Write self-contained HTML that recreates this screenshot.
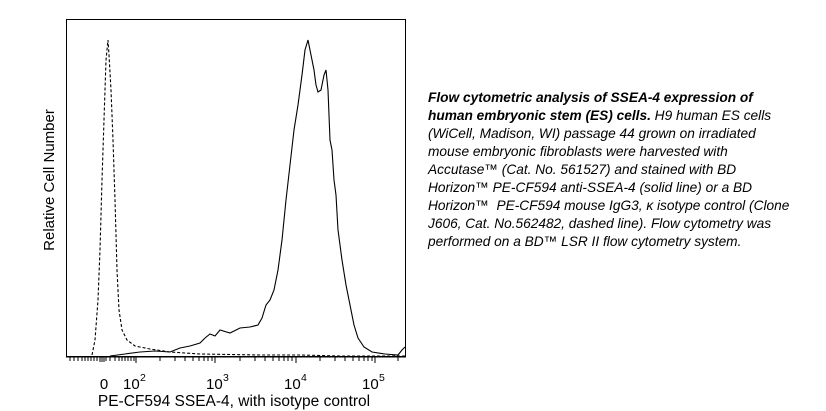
<!DOCTYPE html><html><head><style>
body{margin:0;width:826px;height:411px;background:#fff;position:relative;overflow:hidden;font-family:"Liberation Sans",Arial,sans-serif}
.t{position:absolute;left:428px;font-size:13.7px;font-style:italic;white-space:nowrap;line-height:18px}
</style></head><body>
<svg width="826" height="411" style="position:absolute;left:0;top:0" font-family="Liberation Sans, Arial, sans-serif">
<rect x="66.5" y="19.5" width="339" height="337" fill="none" stroke="#000" stroke-width="1"/>
<g stroke="#000" stroke-width="1">
<line x1="66" y1="357" x2="406" y2="357"/>
<path d="M70 357v4M74 357v4M78 357v4M82 357v4M85 357v4M88 357v4M91 357v4M94 357v4M97 357v4M100 357v5M102 357v5M104 357v5M106 357v4M110 357v4M115 357v4M119 357v4M122 357v4M125 357v4M128 357v4M131 357v4M134 357v4M136 357v6
M160 357v4M175 357v4M185 357v4M193 357v4M199 357v4M204 357v4M208 357v4M212 357v4M215 357v6
M240 357v4M255 357v4M265 357v4M273 357v4M279 357v4M284 357v4M288 357v4M292 357v4M296 357v6
M320 357v4M335 357v4M345 357v4M353 357v4M359 357v4M364 357v4M368 357v4M372 357v4M375 357v6M398 357v4"/>
</g>
<polyline fill="none" stroke="#000" stroke-width="1.1" points="110,356 125,354 140,352 155,351 170,352 180,348 190,346 200,343 205,338 210,334 215,336 220,330 230,333 240,328 250,327 258,325 262,318 266,305 270,300 274,290 278,270 282,240 286,200 290,165 294,130 298,105 302,75 305,50 308,40 311,55 314,70 316,85 318,92 321,90 324,75 326,70 328,90 330,140 332,150 334,180 336,195 338,230 342,260 346,285 350,305 354,325 358,338 364,347 372,352 385,354 398,355 402,350 405,347"/>
<polyline fill="none" stroke="#000" stroke-width="1.1" stroke-dasharray="3,2" points="92,355 95,340 98,300 100,250 102,180 104,120 106,60 108,40 109,55 111,90 113,140 115,200 117,270 119,310 122,330 127,340 135,346 150,349 170,352 200,354 260,355 300,355 340,356 405,356"/>
<text x="104" y="389" font-size="15" text-anchor="middle">0</text>
<text x="123" y="389" font-size="15">10</text><text x="140" y="381" font-size="10.5">2</text>
<text x="206" y="389" font-size="15">10</text><text x="223" y="381" font-size="10.5">3</text>
<text x="284" y="389" font-size="15">10</text><text x="301" y="381" font-size="10.5">4</text>
<text x="362" y="389" font-size="15">10</text><text x="379" y="381" font-size="10.5">5</text>
<text x="234" y="406" font-size="15.5" text-anchor="middle">PE-CF594 SSEA-4, with isotype control</text>
<text transform="translate(54,180) rotate(-90)" font-size="15" text-anchor="middle">Relative Cell Number</text>
</svg>
<div class="t" style="top:89px"><b>Flow cytometric analysis of SSEA-4 expression of</b></div>
<div class="t" style="top:107px"><b>human embryonic stem (ES) cells.</b> H9 human ES cells</div>
<div class="t" style="top:125px">(WiCell, Madison, WI) passage 44 grown on irradiated</div>
<div class="t" style="top:143px">mouse embryonic fibroblasts were harvested with</div>
<div class="t" style="top:161px">Accutase™ (Cat. No. 561527) and stained with BD</div>
<div class="t" style="top:179px">Horizon™ PE-CF594 anti-SSEA-4 (solid line) or a BD</div>
<div class="t" style="top:197px">Horizon™&nbsp; PE-CF594 mouse IgG3, κ isotype control (Clone</div>
<div class="t" style="top:215px">J606, Cat. No.562482, dashed line). Flow cytometry was</div>
<div class="t" style="top:233px">performed on a BD™ LSR II flow cytometry system.</div>
</body></html>
